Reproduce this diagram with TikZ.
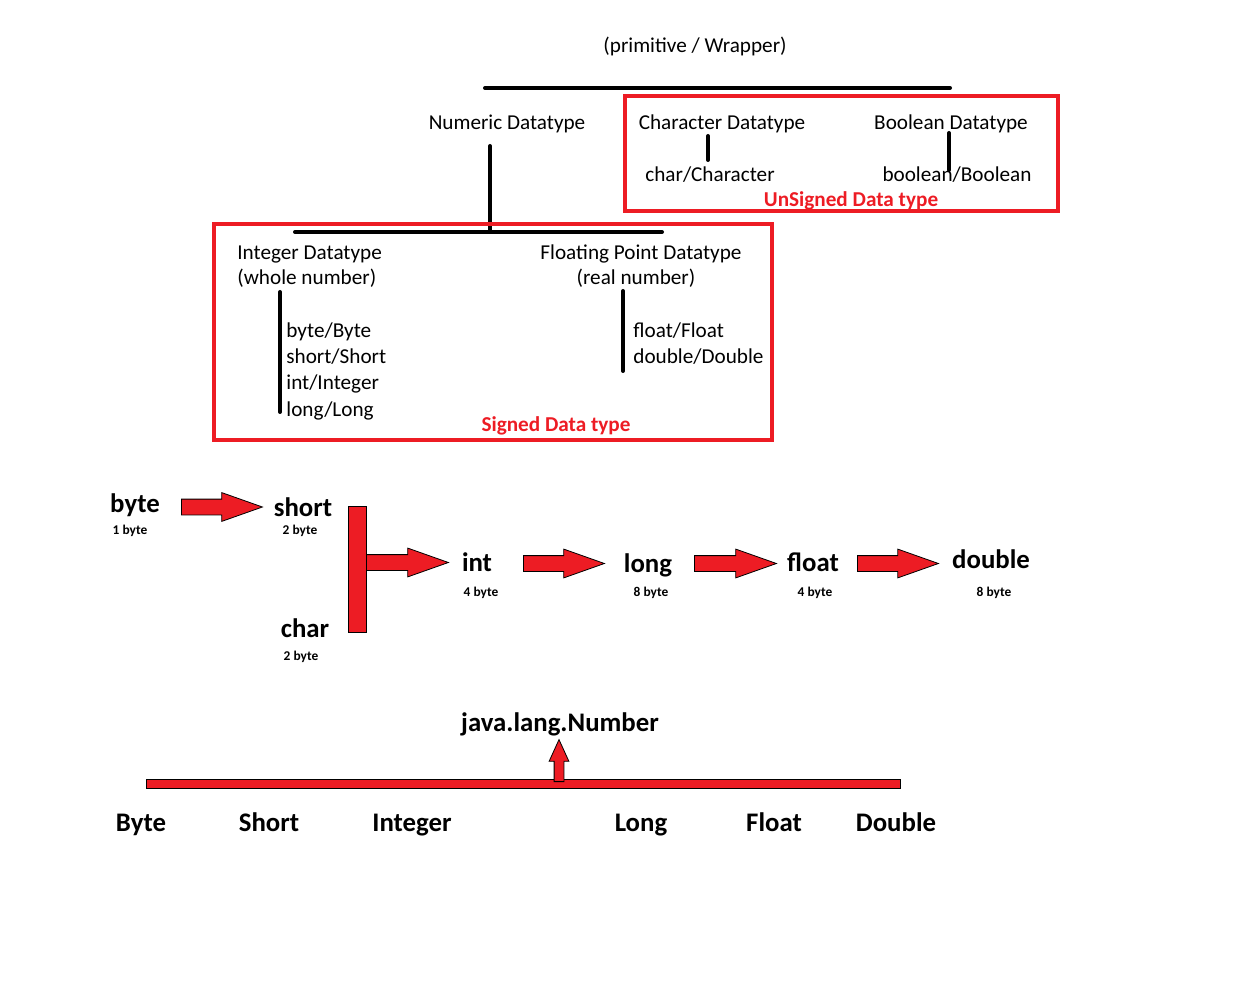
\documentclass[tikz,border=0pt]{standalone}
\usepackage{fontspec}
\setmainfont{Carlito}
\usetikzlibrary{shapes.arrows}
\definecolor{paintred}{RGB}{237,28,36}
\begin{document}
\begin{tikzpicture}[x=0.5pt, y=-0.5pt,
    txt/.style={inner sep=0pt, anchor=base, font=\fontsize{10.6}{12}\selectfont},
    red_lbl/.style={inner sep=0pt, anchor=base, text=paintred, font=\fontsize{10.6}{12}\selectfont\bfseries},
    big_lbl/.style={inner sep=0pt, anchor=base, font=\fontsize{13.4}{16}\selectfont\bfseries},
    size_lbl/.style={inner sep=0pt, anchor=base, font=\fontsize{6.7}{8}\selectfont\bfseries},
    tree/.style={line width=2pt, line cap=round},
    group_box/.style={draw=paintred, line width=2pt},
    bar_style/.style={fill=paintred, draw=black, line width=0.4pt},
    fat_arrow/.style={single arrow, anchor=tail, draw=black, line width=0.4pt, fill=paintred,
        inner xsep=0pt, inner ysep=3.75pt, minimum width=0pt,
        single arrow head extend=3.25pt, single arrow tip angle=39, minimum height=40.5pt}
]
\useasboundingbox (0,0) rectangle (1240,988);

% hierarchy
\node[txt] (root) at (695,53) {(primitive / Wrapper)};
\coordinate (top_l) at (485,88);
\coordinate (top_r) at (950,88);
\draw[tree] (top_l) -- (top_r);

\node[txt] (numeric) at (507,130) {Numeric Datatype};
\node[txt] (character) at (722,130) {Character Datatype};
\node[txt] (boolean) at (951,130) {Boolean Datatype};
\node[txt] (char_w) at (710,182) {char/Character};
\node[txt] (bool_w) at (957,182) {boolean/Boolean};
\coordinate (char_t) at (708,136);
\coordinate (char_b) at (708,160);
\draw[tree] (char_t) -- (char_b);
\coordinate (bool_t) at (949,133);
\coordinate (bool_b) at (949,170);
\draw[tree] (bool_t) -- (bool_b);
\node[red_lbl] (unsigned) at (851,207) {UnSigned Data type};
\draw[group_box] (625,96) rectangle (1058,211);

\coordinate (num_t) at (490,146);
\coordinate (num_b) at (490,232);
\draw[tree] (num_t) -- (num_b);
\coordinate (sig_l) at (295,232);
\coordinate (sig_r) at (662,232);
\draw[tree] (sig_l) -- (sig_r);

\node[txt, anchor=base west] (integer) at (237,260) {Integer Datatype};
\node[txt, anchor=base west] (whole) at (237,285) {(whole number)};
\node[txt] (floating) at (641,260) {Floating Point Datatype};
\node[txt] (real) at (636,285) {(real number)};

\coordinate (int_t) at (280,292);
\coordinate (int_b) at (280,412);
\draw[tree] (int_t) -- (int_b);
\node[txt, anchor=base west] (byte_w) at (286,338) {byte/Byte};
\node[txt, anchor=base west] (short_w) at (286,364) {short/Short};
\node[txt, anchor=base west] (int_w) at (286,390) {int/Integer};
\node[txt, anchor=base west] (long_w) at (286,416) {long/Long};

\coordinate (flt_t) at (623,291);
\coordinate (flt_b) at (623,371);
\draw[tree] (flt_t) -- (flt_b);
\node[txt, anchor=base west] (float_w) at (633,338) {float/Float};
\node[txt, anchor=base west] (double_w) at (633,364) {double/Double};

\node[red_lbl] (signed) at (556,431) {Signed Data type};
\draw[group_box] (214,224) rectangle (772,440);

% widening order
\node[big_lbl] (byte) at (135,512) {byte};
\node[size_lbl] (byte_sz) at (130,534) {1 byte};
\node[big_lbl] (short) at (303,516) {short};
\node[size_lbl] (short_sz) at (300,534) {2 byte};
\node[big_lbl] (char) at (305,637) {char};
\node[size_lbl] (char_sz) at (301,660) {2 byte};
\node[big_lbl] (int) at (477,571) {int};
\node[size_lbl] (int_sz) at (481,596) {4 byte};
\node[big_lbl] (long) at (648,572) {long};
\node[size_lbl] (long_sz) at (651,596) {8 byte};
\node[big_lbl] (float) at (813,571) {float};
\node[size_lbl] (float_sz) at (815,596) {4 byte};
\node[big_lbl] (double) at (991,568) {double};
\node[size_lbl] (double_sz) at (994,596) {8 byte};

\filldraw[bar_style] (348,506) rectangle (366,632);
\node[fat_arrow] (arr_1) at (181,507) {};
\node[fat_arrow, minimum height=41pt] (arr_2) at (366,562.5) {};
\node[fat_arrow] (arr_3) at (523,563.5) {};
\node[fat_arrow, minimum height=41pt] (arr_4) at (694,563.5) {};
\node[fat_arrow] (arr_5) at (857,563.5) {};

% wrapper classes
\node[big_lbl] (number) at (560,731) {java.lang.Number};
\filldraw[bar_style] (146,779) rectangle (900,788);
\node[fat_arrow, rotate=90, minimum height=21pt, inner ysep=2.25pt,
    single arrow head extend=2.5pt, single arrow tip angle=49] (arr_up) at (559,782) {};

\node[big_lbl] (Byte) at (141,831) {Byte};
\node[big_lbl] (Short) at (269,831) {Short};
\node[big_lbl] (Integer) at (412,831) {Integer};
\node[big_lbl] (Long) at (641,831) {Long};
\node[big_lbl] (Float) at (774,831) {Float};
\node[big_lbl] (Double) at (896,831) {Double};
\end{tikzpicture}
\end{document}
